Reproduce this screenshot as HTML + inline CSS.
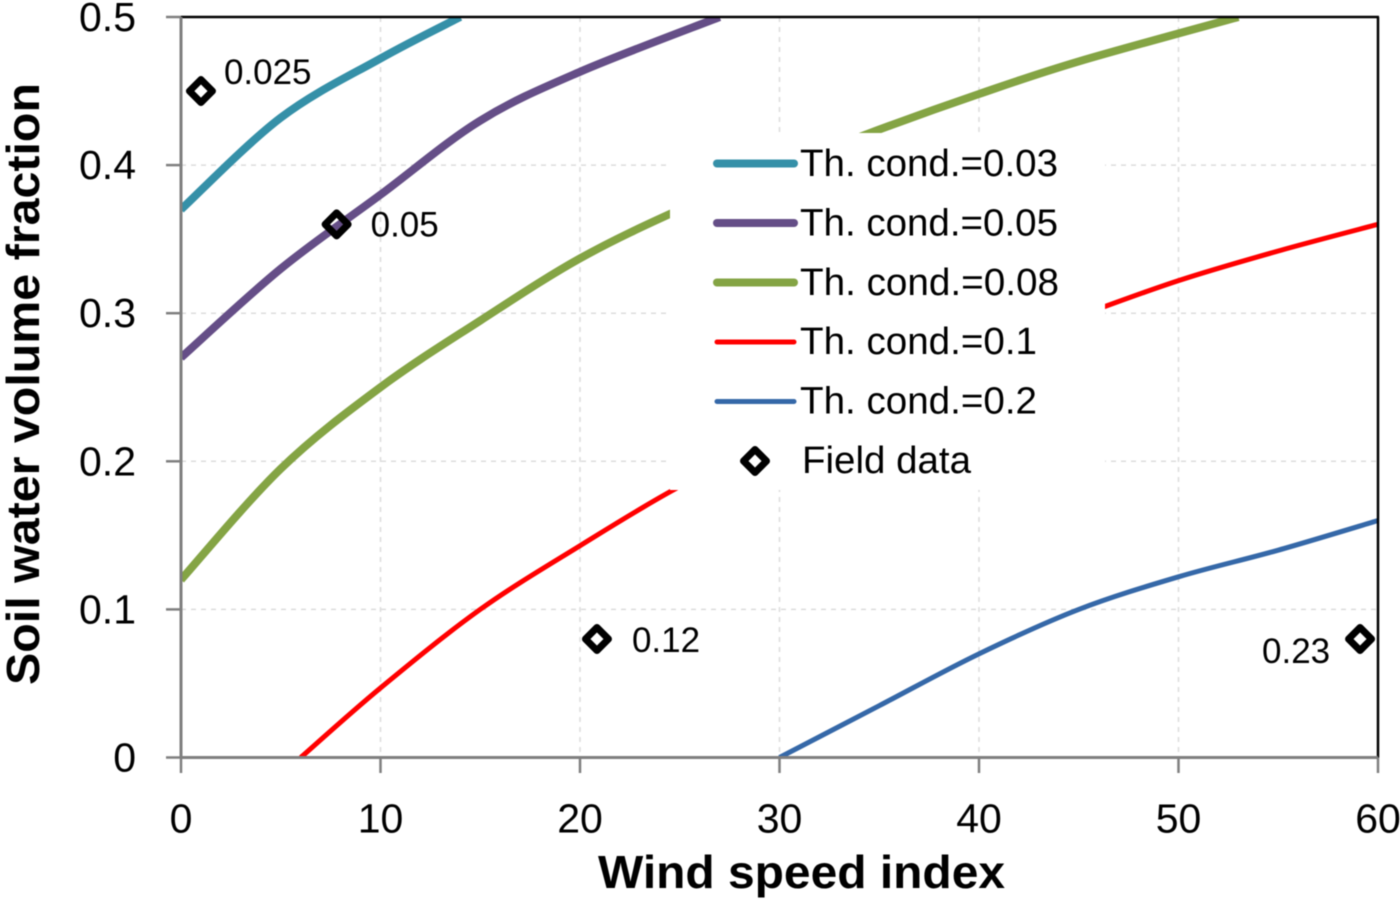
<!DOCTYPE html>
<html>
<head>
<meta charset="utf-8">
<title>Soil water volume fraction vs wind speed index</title>
<style>
html,body{margin:0;padding:0;background:#fff;width:1400px;height:900px;overflow:hidden}
svg{display:block;font-family:"Liberation Sans",sans-serif;fill:#000;filter:blur(.4px)}
</style>
</head>
<body>
<svg id="chart" width="1400" height="900" viewBox="0 0 1400 900" xmlns="http://www.w3.org/2000/svg">
  <defs><clipPath id="plot-clip"><rect x="181" y="17" width="1197" height="741"/></clipPath></defs>
  <g id="grid"></g>
  <g id="curves" clip-path="url(#plot-clip)"></g>
  <rect x="670" y="133" width="435" height="357" fill="#fff"/>
  <g id="axes"></g>
  <g id="xticks"></g>
  <g id="yticks"></g>
  <text x="598" y="888" font-size="46" font-weight="bold" textLength="407" lengthAdjust="spacingAndGlyphs">Wind speed index</text>
  <text transform="translate(39,685) rotate(-90)" font-size="46" font-weight="bold" textLength="602" lengthAdjust="spacingAndGlyphs">Soil water volume fraction</text>
  <g id="legend">
    <line x1="717" x2="794" y1="163.5" y2="163.5" stroke="#3590a8" stroke-width="8" stroke-linecap="round"/>
    <text x="800" y="176" font-size="38" textLength="258" lengthAdjust="spacingAndGlyphs">Th. cond.=0.03</text>
    <line x1="717" x2="794" y1="223" y2="223" stroke="#654e87" stroke-width="8" stroke-linecap="round"/>
    <text x="800" y="235.5" font-size="38" textLength="258" lengthAdjust="spacingAndGlyphs">Th. cond.=0.05</text>
    <line x1="717" x2="794" y1="282.5" y2="282.5" stroke="#84a444" stroke-width="8" stroke-linecap="round"/>
    <text x="800" y="295" font-size="38" textLength="259" lengthAdjust="spacingAndGlyphs">Th. cond.=0.08</text>
    <line x1="717" x2="794" y1="342" y2="342" stroke="#ff0000" stroke-width="5" stroke-linecap="round"/>
    <text x="800" y="354" font-size="38" textLength="237" lengthAdjust="spacingAndGlyphs">Th. cond.=0.1</text>
    <line x1="717" x2="794" y1="401.5" y2="401.5" stroke="#3568a8" stroke-width="5" stroke-linecap="round"/>
    <text x="800" y="413.5" font-size="38" textLength="237" lengthAdjust="spacingAndGlyphs">Th. cond.=0.2</text>
    <path d="M755 449.500L766.500 461L755 472.500L743.500 461Z" fill="none" stroke="#000" stroke-width="7" stroke-linejoin="round"/>
    <text x="802" y="473" font-size="38" textLength="169" lengthAdjust="spacingAndGlyphs">Field data</text>
  </g>
  <g id="points"></g>
</svg>
<script>
const xTicks = [0, 10, 20, 30, 40, 50, 60];
const yTicks = [0, 0.1, 0.2, 0.3, 0.4, 0.5];

const cond003X = [0, 5, 10, 14];
const cond003Y = [0.37, 0.432, 0.472, 0.5];
const cond005X = [0, 5, 10, 15, 20, 27];
const cond005Y = [0.27, 0.33, 0.38, 0.43, 0.463, 0.5];
const cond008X = [0, 5, 10, 15, 20, 25, 30, 35, 40, 45, 53];
const cond008Y = [0.12, 0.195, 0.25, 0.295, 0.337, 0.37, 0.398, 0.424, 0.448, 0.47, 0.5];
const cond01X = [6, 10, 15, 20, 25, 30, 35, 40, 45, 50, 55, 60];
const cond01Y = [0, 0.047, 0.1, 0.143, 0.183, 0.215, 0.245, 0.272, 0.298, 0.322, 0.342, 0.36];
const cond02X = [30, 35, 40, 45, 50, 55, 60];
const cond02Y = [0, 0.035, 0.07, 0.1, 0.122, 0.14, 0.16];

const seriesNames = ["0-03", "0-05", "0-08", "0-1", "0-2"];
const seriesX = [cond003X, cond005X, cond008X, cond01X, cond02X];
const seriesY = [cond003Y, cond005Y, cond008Y, cond01Y, cond02Y];
const seriesColors = ["#3590a8", "#654e87", "#84a444", "#ff0000", "#3568a8"];
const seriesWidths = [8, 8, 8, 5, 5];

const fieldX = [1, 7.8, 20.85, 59.1];
const fieldY = [0.45, 0.36, 0.08, 0.08];
const fieldLabels = ["0.025", "0.05", "0.12", "0.23"];

const NS = "http://www.w3.org/2000/svg";
const plotLeft = 181, plotRight = 1378, plotTop = 17, plotBottom = 757.5;
function sx(v) { return plotLeft + (v - 0) / 60 * (plotRight - plotLeft); }
function sy(v) { return plotBottom - v / 0.5 * (plotBottom - plotTop); }

function make(parent, tag, attrs, text) {
  const el = document.createElementNS(NS, tag);
  for (const k in attrs) el.setAttribute(k, attrs[k]);
  if (text !== undefined) el.textContent = text;
  parent.appendChild(el);
  return el;
}
function smoothPath(xs, ys) {
  const p = xs.map((x, i) => [sx(x), sy(ys[i])]);
  let d = "M" + p[0][0] + " " + p[0][1];
  for (let i = 0; i < p.length - 1; i++) {
    const a = p[Math.max(0, i - 1)], b = p[i], c = p[i + 1], e = p[Math.min(p.length - 1, i + 2)];
    const c1x = b[0] + (c[0] - a[0]) / 6, c1y = b[1] + (c[1] - a[1]) / 6;
    const c2x = c[0] - (e[0] - b[0]) / 6, c2y = c[1] - (e[1] - b[1]) / 6;
    d += "C" + c1x + " " + c1y + " " + c2x + " " + c2y + " " + c[0] + " " + c[1];
  }
  return d;
}

const grid = document.getElementById("grid");
const axes = document.getElementById("axes");
const xg = document.getElementById("xticks");
const yg = document.getElementById("yticks");
const curves = document.getElementById("curves");
const points = document.getElementById("points");

xTicks.forEach(function (t) {
  if (t > 0 && t < 60) {
    const g = make(grid, "line", { x1: sx(t), x2: sx(t), y1: plotTop, y2: plotBottom, stroke: "#dcdcdc", "stroke-width": 1.5, "stroke-dasharray": "5 5" });
    
    
  }
  const m = make(xg, "line", { x1: sx(t), x2: sx(t), y1: plotBottom, y2: 773, stroke: "#7f7f7f", "stroke-width": 2.5 });
  
  
  const l = make(xg, "text", { x: sx(t), y: 832.5, "font-size": 41, "text-anchor": "middle" }, String(t));
  
  
});
yTicks.forEach(function (t) {
  if (t > 0 && t < 0.5) {
    const g = make(grid, "line", { x1: plotLeft, x2: plotRight, y1: sy(t), y2: sy(t), stroke: "#dcdcdc", "stroke-width": 1.5, "stroke-dasharray": "5 5" });
    
    
  }
  const m = make(yg, "line", { x1: 166, x2: plotLeft, y1: sy(t), y2: sy(t), stroke: "#7f7f7f", "stroke-width": 2.5 });
  
  
  const l = make(yg, "text", { x: 136, y: sy(t) + 14, "font-size": 41, "text-anchor": "end" }, String(t));
  
  
});

seriesX.forEach(function (xs, i) {
  const c = make(curves, "path", { d: smoothPath(xs, seriesY[i]), fill: "none", stroke: seriesColors[i], "stroke-width": seriesWidths[i] });
  
  
});

const topBorder = make(axes, "line", { x1: plotLeft, x2: plotRight + 1, y1: plotTop, y2: plotTop, stroke: "#000", "stroke-width": 2.5 });


const rightBorder = make(axes, "line", { x1: plotRight, x2: plotRight, y1: plotTop, y2: plotBottom, stroke: "#000", "stroke-width": 2.5 });


const leftAxis = make(axes, "line", { x1: plotLeft, x2: plotLeft, y1: plotTop, y2: plotBottom, stroke: "#7f7f7f", "stroke-width": 3 });


const bottomAxis = make(axes, "line", { x1: plotLeft, x2: plotRight, y1: plotBottom, y2: plotBottom, stroke: "#7f7f7f", "stroke-width": 3 });



const labelDx = [23, 34, 35, -98];
const labelDy = [-7, 12, 13, 24];
fieldX.forEach(function (x, i) {
  const cx = sx(x), cy = sy(fieldY[i]), r = 11.5;
  const d = "M" + cx + " " + (cy - r) + "L" + (cx + r) + " " + cy + "L" + cx + " " + (cy + r) + "L" + (cx - r) + " " + cy + "Z";
  const m = make(points, "path", { d: d, fill: "none", stroke: "#000", "stroke-width": 7, "stroke-linejoin": "round" });
  
  
  const t = make(points, "text", { x: cx + labelDx[i], y: cy + labelDy[i], "font-size": 35 }, fieldLabels[i]);
  
  
});
</script>
</body>
</html>
